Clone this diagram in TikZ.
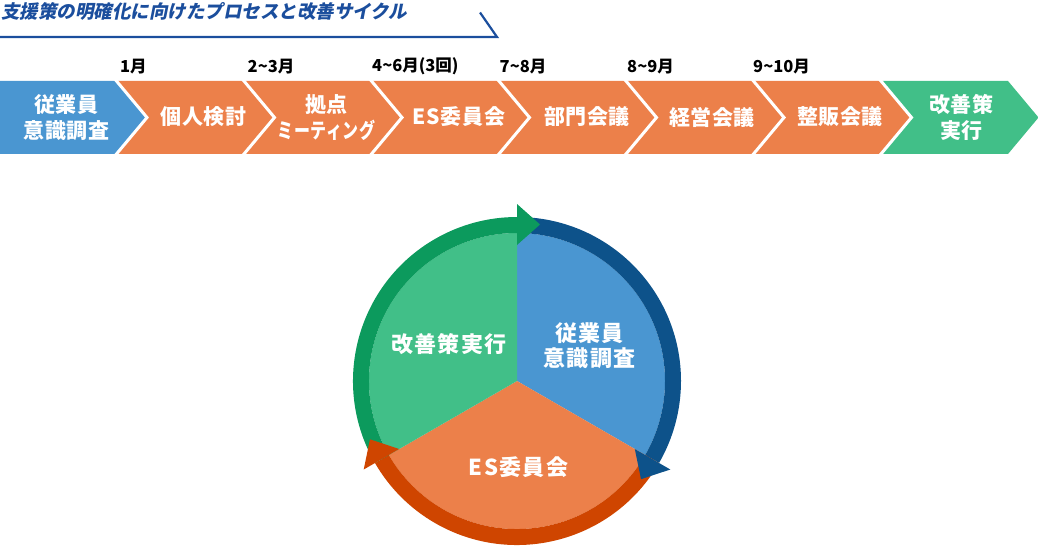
\documentclass[tikz,border=0pt]{standalone}
\usepackage{fontspec}
\setmainfont{Noto Sans CJK JP}
\newfontfamily\titlefont{Noto Sans CJK JP}[FakeSlant=0.2]
\usetikzlibrary{calc}
\definecolor{titleblue}{HTML}{1B4E9D}
\definecolor{cblue}{HTML}{4A96D1}
\definecolor{corange}{HTML}{EC804A}
\definecolor{cgreen}{HTML}{41BF88}
\definecolor{rblue}{HTML}{0D528A}
\definecolor{rorange}{HTML}{CF4500}
\definecolor{rgreen}{HTML}{0C9A5D}
\tikzset{
  chevtxt/.style={text=white, inner sep=0pt, align=center,
    font=\fontsize{21}{26}\selectfont\bfseries\addfontfeatures{LetterSpace=3}},
  pietxt/.style={text=white, inner sep=0pt, align=center,
    font=\fontsize{22}{25}\selectfont\bfseries\addfontfeatures{LetterSpace=6}},
  datetxt/.style={text=black, inner sep=0pt, anchor=west,
    font=\fontsize{16.5}{18}\selectfont\bfseries},
  sepline/.style={white, line width=3pt},
  ring/.style={line width=16pt},
}
\begin{document}
\begin{tikzpicture}[x=1pt,y=1pt]
\useasboundingbox (0,0) rectangle (1038,-548);

% title
\node[inner sep=0pt, anchor=west, text=titleblue, font=\fontsize{18.5}{20}\selectfont\titlefont\bfseries] (title) at (1,-11.5) {支援策の明確化に向けたプロセスと改善サイクル};
\coordinate (ul0) at (0,-37);
\coordinate (ul1) at (497,-37);
\coordinate (ul2) at (480,-12.5);
\draw[titleblue, line width=2.2pt] (ul0) -- (ul1) -- (ul2);

% chevrons
\fill[cblue] (0,-81) -- (116.5,-81) -- (147,-117.5) -- (116.5,-154) -- (0,-154) -- cycle;
\foreach \a/\b/\c in {116.5/244/corange, 244/371.5/corange, 371.5/499/corange, 499/626/corange, 626/753.5/corange, 753.5/881/corange, 881/1008/cgreen}
  \fill[\c] (\a,-81) -- (\b,-81) -- (\b+30.5,-117.5) -- (\b,-154) -- (\a,-154) -- (\a+30.5,-117.5) -- cycle;
\foreach \a in {116.5,244,371.5,499,626,753.5,881}
  \draw[sepline] (\a-1.7,-79) -- (\a+30.5,-117.5) -- (\a-1.7,-156);

% chevron texts
\node[chevtxt] (s1) at (66.5,-117.5) {従業員\\意識調査};
\node[chevtxt] (s2) at (203.5,-117) {個人検討};
\node[chevtxt] (s3) at (326.5,-117.5) {拠点\\\scalebox{0.76}[1]{ミーティング}};
\node[chevtxt] (s4) at (459,-117) {ES委員会};
\node[chevtxt] (s5) at (587,-117) {部門会議};
\node[chevtxt] (s6) at (712,-117) {経営会議};
\node[chevtxt] (s7) at (840,-117) {整販会議};
\node[chevtxt] (s8) at (961.5,-117.5) {改善策\\実行};

% dates
\node[datetxt] (d2) at (120,-66.5) {1月};
\node[datetxt] (d3) at (247.5,-66.5) {2\textasciitilde 3月};
\node[datetxt] (d4) at (372,-66.5) {4\textasciitilde 6月(3回)};
\node[datetxt] (d5) at (499.5,-66.5) {7\textasciitilde 8月};
\node[datetxt] (d6) at (627,-66.5) {8\textasciitilde 9月};
\node[datetxt] (d7) at (753,-66.5) {9\textasciitilde 10月};

% cycle
\coordinate (C) at (517,-381);
\fill[cblue] (C) -- ($(C)+(90:148pt)$) arc[start angle=90, end angle=-30, radius=148pt] -- cycle;
\fill[corange] (C) -- ($(C)+(-30:148pt)$) arc[start angle=-30, end angle=-150, radius=148pt] -- cycle;
\fill[cgreen] (C) -- ($(C)+(210:148pt)$) arc[start angle=210, end angle=90, radius=148pt] -- cycle;

\draw[ring, rblue] ($(C)+(90:156pt)$) arc[start angle=90, end angle=-30, radius=156pt];
\draw[ring, rorange] ($(C)+(-30:156pt)$) arc[start angle=-30, end angle=-150, radius=156pt];
\draw[ring, rgreen] ($(C)+(210:156pt)$) arc[start angle=210, end angle=90, radius=156pt];

\foreach \t/\c in {90/rgreen, -30/rblue, 210/rorange}
  \fill[\c] ($(C)+(\t:136pt)$) -- ($(C)+(\t:177pt)$) -- ($(C)+(\t:156.5pt)+(\t-90:23pt)$) -- cycle;

\node[pietxt] (p1) at (589.5,-345.5) {従業員\\意識調査};
\node[pietxt] (p2) at (518.5,-467.5) {ES委員会};
\node[pietxt] (p3) at (449,-344.5) {改善策実行};
\end{tikzpicture}
\end{document}
